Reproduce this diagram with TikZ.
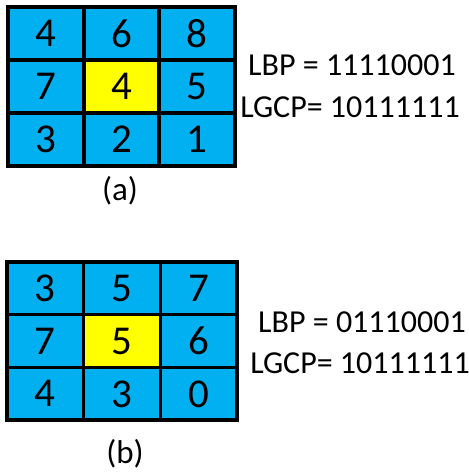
\documentclass[tikz,border=0pt]{standalone}
\usepackage{fontspec}
\setmainfont{Carlito}
\definecolor{cellblue}{HTML}{00B0F0}
\definecolor{cellyellow}{HTML}{FFFF00}
\begin{document}
\begin{tikzpicture}[x=1pt,y=-1pt,
  cella/.style={draw=black, line width=4pt, fill=cellblue, minimum width=75.7pt, minimum height=53pt, inner sep=0pt, font=\fontsize{41}{41}\selectfont, anchor=center, text depth=-4pt},
  cellb/.style={draw=black, line width=3.5pt, fill=cellblue, minimum width=76.7pt, minimum height=52.7pt, inner sep=0pt, font=\fontsize{41}{41}\selectfont, anchor=center, text depth=-4pt},
  centre/.style={fill=cellyellow},
  code/.style={font=\fontsize{32}{32}\selectfont, inner sep=0pt},
  captext/.style={font=\fontsize{33}{33}\selectfont, inner sep=0pt}]
\useasboundingbox (0,0) rectangle (469,472);
% grid (a)
\foreach \r/\yy in {1/33.5, 2/86.5, 3/139.5}{
  \foreach \c/\xx in {1/45.8, 2/121.5, 3/197.2}{
    \coordinate (pa\r\c) at (\xx,\yy);
  }
}
\node[cella] (a11) at (pa11) {4};
\node[cella] (a12) at (pa12) {6};
\node[cella] (a13) at (pa13) {8};
\node[cella] (a21) at (pa21) {7};
\node[cella,centre] (a22) at (pa22) {4};
\node[cella] (a23) at (pa23) {5};
\node[cella] (a31) at (pa31) {3};
\node[cella] (a32) at (pa32) {2};
\node[cella] (a33) at (pa33) {1};
\node[code] (lbpa) at (352,65) {LBP = 11110001};
\node[code] (lgcpa) at (350,107) {LGCP= 10111111};
\node[captext] (capa) at (120,191) {(a)};
% grid (b)
\foreach \r/\yy in {1/288.3, 2/341, 3/393.7}{
  \foreach \c/\xx in {1/45.3, 2/122, 3/198.7}{
    \coordinate (pb\r\c) at (\xx,\yy);
  }
}
\node[cellb] (b11) at (pb11) {3};
\node[cellb] (b12) at (pb12) {5};
\node[cellb] (b13) at (pb13) {7};
\node[cellb] (b21) at (pb21) {7};
\node[cellb,centre] (b22) at (pb22) {5};
\node[cellb] (b23) at (pb23) {6};
\node[cellb] (b31) at (pb31) {4};
\node[cellb] (b32) at (pb32) {3};
\node[cellb] (b33) at (pb33) {0};
\node[code] (lbpb) at (362,322) {LBP = 01110001};
\node[code] (lgcpb) at (360,363) {LGCP= 10111111};
\node[captext] (capb) at (125,454) {(b)};
\end{tikzpicture}
\end{document}
